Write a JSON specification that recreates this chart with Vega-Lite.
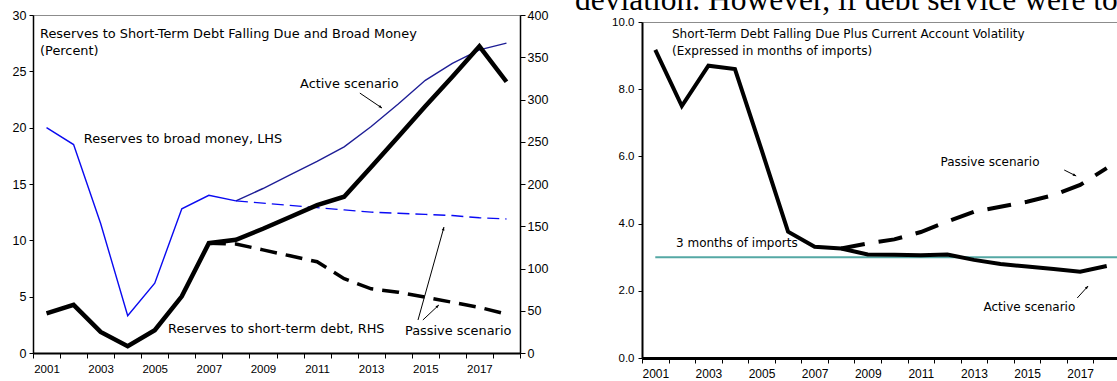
{
  "$schema": "https://vega.github.io/schema/vega-lite/v6.json",
  "autosize": {"type": "none"},
  "padding": {"left": 33, "top": 15, "right": 0, "bottom": 0},
  "params": [
    {"name": "width", "value": 1084},
    {"name": "height", "value": 366}
  ],
  "background": "white",
  "bounds": "flush",
  "spacing": 122,
  "config": {
    "font": "Liberation Sans",
    "view": {"stroke": "#8c8c8c", "strokeWidth": 1},
    "axis": {
      "grid": false,
      "domainColor": "black",
      "tickColor": "black",
      "labelColor": "black",
      "labelFont": "Liberation Sans",
      "labelOverlap": false,
      "labelBound": false,
      "labelFlush": false
    },
    "text": {"font": "DejaVu Sans", "color": "black"}
  },
  "datasets": {
    "broadMoney": [
      {"year": 2001, "path": "Historical", "value": 20.0},
      {"year": 2002, "path": "Historical", "value": 18.5},
      {"year": 2003, "path": "Historical", "value": 11.5},
      {"year": 2004, "path": "Historical", "value": 3.3},
      {"year": 2005, "path": "Historical", "value": 6.2},
      {"year": 2006, "path": "Historical", "value": 12.8},
      {"year": 2007, "path": "Historical", "value": 14.0},
      {"year": 2008, "path": "Historical", "value": 13.5},
      {"year": 2008, "path": "Active", "value": 13.5},
      {"year": 2009, "path": "Active", "value": 14.6},
      {"year": 2010, "path": "Active", "value": 15.8},
      {"year": 2011, "path": "Active", "value": 17.0},
      {"year": 2012, "path": "Active", "value": 18.3},
      {"year": 2013, "path": "Active", "value": 20.1},
      {"year": 2014, "path": "Active", "value": 22.1},
      {"year": 2015, "path": "Active", "value": 24.2},
      {"year": 2016, "path": "Active", "value": 25.7},
      {"year": 2017, "path": "Active", "value": 26.9},
      {"year": 2018, "path": "Active", "value": 27.5},
      {"year": 2008, "path": "Passive", "value": 13.5},
      {"year": 2009, "path": "Passive", "value": 13.3},
      {"year": 2010, "path": "Passive", "value": 13.1},
      {"year": 2011, "path": "Passive", "value": 12.9},
      {"year": 2012, "path": "Passive", "value": 12.7},
      {"year": 2013, "path": "Passive", "value": 12.5},
      {"year": 2014, "path": "Passive", "value": 12.4},
      {"year": 2015, "path": "Passive", "value": 12.3},
      {"year": 2016, "path": "Passive", "value": 12.2},
      {"year": 2017, "path": "Passive", "value": 12.0},
      {"year": 2018, "path": "Passive", "value": 11.9}
    ],
    "shortTermDebt": [
      {"year": 2001, "path": "Active", "value": 47},
      {"year": 2002, "path": "Active", "value": 57},
      {"year": 2003, "path": "Active", "value": 25},
      {"year": 2004, "path": "Active", "value": 8},
      {"year": 2005, "path": "Active", "value": 27},
      {"year": 2006, "path": "Active", "value": 67},
      {"year": 2007, "path": "Active", "value": 130},
      {"year": 2008, "path": "Active", "value": 134},
      {"year": 2009, "path": "Active", "value": 147},
      {"year": 2010, "path": "Active", "value": 161},
      {"year": 2011, "path": "Active", "value": 175},
      {"year": 2012, "path": "Active", "value": 185},
      {"year": 2013, "path": "Active", "value": 220},
      {"year": 2014, "path": "Active", "value": 256},
      {"year": 2015, "path": "Active", "value": 292},
      {"year": 2016, "path": "Active", "value": 327},
      {"year": 2017, "path": "Active", "value": 363},
      {"year": 2018, "path": "Active", "value": 321},
      {"year": 2007, "path": "Passive", "value": 130},
      {"year": 2008, "path": "Passive", "value": 129},
      {"year": 2009, "path": "Passive", "value": 122},
      {"year": 2010, "path": "Passive", "value": 115},
      {"year": 2011, "path": "Passive", "value": 108},
      {"year": 2012, "path": "Passive", "value": 88},
      {"year": 2013, "path": "Passive", "value": 76},
      {"year": 2014, "path": "Passive", "value": 72},
      {"year": 2015, "path": "Passive", "value": 66},
      {"year": 2016, "path": "Passive", "value": 60},
      {"year": 2017, "path": "Passive", "value": 54},
      {"year": 2018, "path": "Passive", "value": 46}
    ],
    "monthsOfImports": [
      {"year": 2001, "path": "Active", "value": 9.17},
      {"year": 2002, "path": "Active", "value": 7.5},
      {"year": 2003, "path": "Active", "value": 8.7},
      {"year": 2004, "path": "Active", "value": 8.6},
      {"year": 2005, "path": "Active", "value": 6.2},
      {"year": 2006, "path": "Active", "value": 3.76},
      {"year": 2007, "path": "Active", "value": 3.31},
      {"year": 2008, "path": "Active", "value": 3.26},
      {"year": 2009, "path": "Active", "value": 3.08},
      {"year": 2010, "path": "Active", "value": 3.07},
      {"year": 2011, "path": "Active", "value": 3.06},
      {"year": 2012, "path": "Active", "value": 3.08},
      {"year": 2013, "path": "Active", "value": 2.92},
      {"year": 2014, "path": "Active", "value": 2.8},
      {"year": 2015, "path": "Active", "value": 2.72},
      {"year": 2016, "path": "Active", "value": 2.65},
      {"year": 2017, "path": "Active", "value": 2.57},
      {"year": 2018, "path": "Active", "value": 2.74},
      {"year": 2008, "path": "Passive", "value": 3.26},
      {"year": 2009, "path": "Passive", "value": 3.41},
      {"year": 2010, "path": "Passive", "value": 3.53},
      {"year": 2011, "path": "Passive", "value": 3.75},
      {"year": 2012, "path": "Passive", "value": 4.06},
      {"year": 2013, "path": "Passive", "value": 4.35},
      {"year": 2014, "path": "Passive", "value": 4.5},
      {"year": 2015, "path": "Passive", "value": 4.65},
      {"year": 2016, "path": "Passive", "value": 4.85},
      {"year": 2017, "path": "Passive", "value": 5.15},
      {"year": 2018, "path": "Passive", "value": 5.65}
    ],
    "threshold": [
      {"year": 2001, "year2": 2018.5, "value": 3}
    ],
    "notesLeft": [
      {"year": 2000.76, "value": 27.95, "label": "Reserves to Short-Term Debt Falling Due and Broad Money"},
      {"year": 2000.76, "value": 26.44, "label": "(Percent)"},
      {"year": 2002.38, "value": 18.63, "label": "Reserves to broad money, LHS"},
      {"year": 2010.37, "value": 23.51, "label": "Active scenario"},
      {"year": 2005.49, "value": 1.77, "label": "Reserves to short-term debt, RHS"},
      {"year": 2014.25, "value": 1.6, "label": "Passive scenario"}
    ],
    "arrowsLeft": [
      {"year": 2013.4, "value": 21.74, "year2": 2012.58, "value2": 23.07, "heading": 124},
      {"year": 2015.69, "value": 11.18, "year2": 2014.73, "value2": 2.93, "heading": 15.6},
      {"year": 2015.5, "value": 4.26, "year2": 2014.91, "value2": 2.93, "heading": 46.8}
    ],
    "notesRight": [
      {"year": 2001.63, "value": 9.52, "label": "Short-Term Debt Falling Due Plus Current Account Volatility"},
      {"year": 2001.63, "value": 9.02, "label": "(Expressed in months of imports)"},
      {"year": 2011.74, "value": 5.71, "label": "Passive scenario"},
      {"year": 2001.78, "value": 3.3, "label": "3 months of imports"},
      {"year": 2013.36, "value": 1.4, "label": "Active scenario"}
    ],
    "arrowsRight": [
      {"year": 2016.85, "value": 5.417, "year2": 2016.4, "value2": 5.595, "heading": 116.6},
      {"year": 2017.3, "value": 2.143, "year2": 2016.89, "value2": 1.786, "heading": 42.5}
    ],
    "runningText": [
      {"line": "deviation. However, if debt service were to"}
    ]
  },
  "hconcat": [
    {
      "width": 487,
      "height": 338,
      "encoding": {
        "x": {
          "field": "year",
          "type": "quantitative",
          "title": null,
          "scale": {"domain": [2000.5, 2018.5], "nice": false, "zero": false},
          "axis": {
            "values": [2000.5, 2001.5, 2002.5, 2003.5, 2004.5, 2005.5, 2006.5, 2007.5, 2008.5, 2009.5, 2010.5, 2011.5, 2012.5, 2013.5, 2014.5, 2015.5, 2016.5, 2017.5, 2018.5],
            "labelExpr": "(datum.value + 0.5) % 2 == 1 && datum.value < 2017.6 ? '' + (datum.value + 0.5) : ''",
            "labelOffset": 13.5,
            "labelFontSize": 11.5,
            "labelPadding": 5,
            "tickSize": 5,
            "domainWidth": 2,
            "tickWidth": 1
          }
        }
      },
      "layer": [
        {
          "encoding": {
            "y": {
              "field": "value",
              "type": "quantitative",
              "title": null,
              "scale": {"domain": [0, 30], "nice": false},
              "axis": {
                "orient": "left",
                "values": [0, 5, 10, 15, 20, 25, 30],
                "labelFontSize": 12.5,
                "labelPadding": 3,
                "tickSize": 4,
                "domainWidth": 1.5
              }
            }
          },
          "layer": [
            {
              "data": {"name": "broadMoney"},
              "transform": [{"filter": "datum.path == 'Historical'"}],
              "mark": {"type": "line", "color": "#0a0af0", "strokeWidth": 1.4}
            },
            {
              "data": {"name": "broadMoney"},
              "transform": [{"filter": "datum.path == 'Active'"}],
              "mark": {"type": "line", "color": "#1e1e96", "strokeWidth": 1.4}
            },
            {
              "data": {"name": "broadMoney"},
              "transform": [{"filter": "datum.path == 'Passive'"}],
              "mark": {"type": "line", "color": "#0a0af5", "strokeWidth": 1.4, "strokeDash": [12, 6]}
            },
            {
              "data": {"name": "notesLeft"},
              "mark": {"type": "text", "align": "left", "baseline": "alphabetic", "fontSize": 12.9},
              "encoding": {"text": {"field": "label"}}
            },
            {
              "data": {"name": "arrowsLeft"},
              "mark": {"type": "rule", "color": "black", "strokeWidth": 1},
              "encoding": {"x2": {"field": "year2"}, "y2": {"field": "value2"}}
            },
            {
              "data": {"name": "arrowsLeft"},
              "mark": {"type": "point", "shape": "M0,0L-0.4,1L0.4,1Z", "filled": true, "size": 45, "color": "black", "opacity": 1},
              "encoding": {"angle": {"field": "heading", "type": "quantitative", "scale": null}}
            }
          ]
        },
        {
          "encoding": {
            "y": {
              "field": "value",
              "type": "quantitative",
              "title": null,
              "scale": {"domain": [0, 400], "nice": false},
              "axis": {
                "orient": "right",
                "values": [0, 50, 100, 150, 200, 250, 300, 350, 400],
                "labelFontSize": 12.5,
                "labelPadding": 2,
                "tickSize": 5,
                "domainWidth": 1.5
              }
            }
          },
          "layer": [
            {
              "data": {"name": "shortTermDebt"},
              "transform": [{"filter": "datum.path == 'Passive'"}],
              "mark": {"type": "line", "color": "black", "strokeWidth": 3.5, "strokeDash": [17, 9]}
            },
            {
              "data": {"name": "shortTermDebt"},
              "transform": [{"filter": "datum.path == 'Active'"}],
              "mark": {"type": "line", "color": "black", "strokeWidth": 4.5}
            }
          ]
        }
      ],
      "resolve": {"scale": {"y": "independent"}, "axis": {"y": "independent"}}
    },
    {
      "spacing": 6,
      "bounds": "flush",
      "vconcat": [
        {
          "width": 478,
          "height": 1,
          "view": {"stroke": null},
          "data": {"name": "runningText"},
          "mark": {
            "type": "text",
            "font": "Liberation Serif",
            "fontSize": 31.5,
            "align": "left",
            "baseline": "alphabetic",
            "dx": -306,
            "dy": -5.5
          },
          "encoding": {"text": {"field": "line"}}
        },
        {
          "width": 478,
          "height": 336,
          "encoding": {
            "x": {
              "field": "year",
              "type": "quantitative",
              "title": null,
              "scale": {"domain": [2000.5, 2018.5], "nice": false, "zero": false},
              "axis": {
                "values": [2000.5, 2001.5, 2002.5, 2003.5, 2004.5, 2005.5, 2006.5, 2007.5, 2008.5, 2009.5, 2010.5, 2011.5, 2012.5, 2013.5, 2014.5, 2015.5, 2016.5, 2017.5, 2018.5],
                "labelExpr": "(datum.value + 0.5) % 2 == 1 && datum.value < 2017.6 ? '' + (datum.value + 0.5) : ''",
                "labelOffset": 13.3,
                "labelFontSize": 12,
                "labelPadding": 5,
                "tickSize": 5,
                "domainWidth": 3,
                "tickWidth": 1
              }
            },
            "y": {
              "field": "value",
              "type": "quantitative",
              "title": null,
              "scale": {"domain": [0, 10], "nice": false},
              "axis": {
                "values": [0, 2, 4, 6, 8, 10],
                "format": ".1f",
                "labelFontSize": 11.5,
                "labelPadding": 4,
                "tickSize": 4,
                "domainWidth": 2
              }
            }
          },
          "layer": [
            {
              "data": {"name": "threshold"},
              "mark": {"type": "rule", "color": "#55a8a4", "strokeWidth": 2},
              "encoding": {"x2": {"field": "year2"}}
            },
            {
              "data": {"name": "monthsOfImports"},
              "transform": [{"filter": "datum.path == 'Passive'"}],
              "mark": {"type": "line", "color": "black", "strokeWidth": 4, "strokeDash": [24, 14]}
            },
            {
              "data": {"name": "monthsOfImports"},
              "transform": [{"filter": "datum.path == 'Active'"}],
              "mark": {"type": "line", "color": "black", "strokeWidth": 4}
            },
            {
              "data": {"name": "notesRight"},
              "mark": {"type": "text", "align": "left", "baseline": "alphabetic", "fontSize": 12},
              "encoding": {"text": {"field": "label"}}
            },
            {
              "data": {"name": "arrowsRight"},
              "mark": {"type": "rule", "color": "black", "strokeWidth": 1},
              "encoding": {"x2": {"field": "year2"}, "y2": {"field": "value2"}}
            },
            {
              "data": {"name": "arrowsRight"},
              "mark": {"type": "point", "shape": "M0,0L-0.4,1L0.4,1Z", "filled": true, "size": 45, "color": "black", "opacity": 1},
              "encoding": {"angle": {"field": "heading", "type": "quantitative", "scale": null}}
            }
          ]
        }
      ]
    }
  ]
}
